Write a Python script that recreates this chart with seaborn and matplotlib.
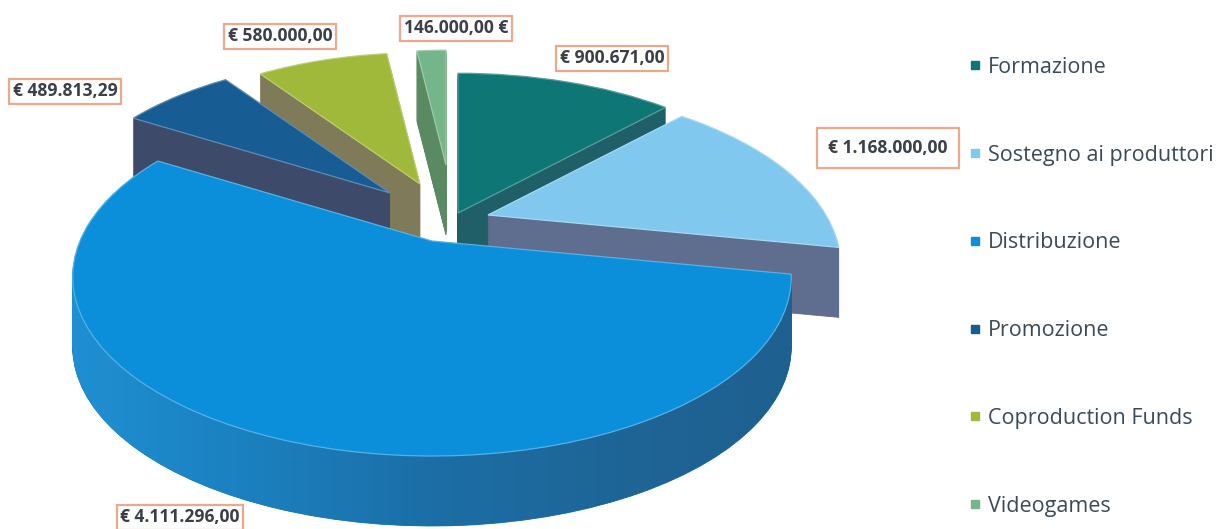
import numpy as np
import matplotlib
matplotlib.use("Agg")
import matplotlib.pyplot as plt
import seaborn as sns
from matplotlib.transforms import Transform
from matplotlib.path import Path
from matplotlib.patches import PathPatch
from matplotlib.lines import Line2D
from matplotlib.colors import to_rgb, LinearSegmentedColormap

categories = ["Formazione", "Sostegno ai produttori", "Distribuzione", "Promozione",
              "Coproduction Funds", "Videogames"]
values = [900671.00, 1168000.00, 4111296.00, 489813.29, 580000.00, 146000.00]
value_labels = ["€ 900.671,00", "€ 1.168.000,00", "€ 4.111.296,00", "€ 489.813,29",
                "€ 580.000,00", "146.000,00 €"]

top_colors = ["#0f7676", "#80c8ee", "#0c8fda", "#175c92", "#a0b93a", "#74b58a"]
side_colors = ["#1f5f68", "#5f6d8e", "#1d7ab8", "#3d4a6a", "#7f7a58", "#5a8a62"]
apex_px = [(458, 213), (488, 215), (432, 241), (390, 193), (420, 184), (446, 165)]
slice_scale = [0.97, 0.96, 1.0, 0.93, 0.90, 0.77]
slice_persp = [0.2, 0.3, 0.2, 0.2, 0.2, 0.2]
draw_order = [5, 0, 4, 3, 1, 2]
label_pos = [(612, 58), (888, 148), (180, 517), (65, 91), (280, 36), (456, 28)]
label_pad = [0.2, 0.65, 0.2, 0.2, 0.2, 0.2]

sns.set_theme(style="white")
plt.rcParams["font.family"] = ["Open Sans", "DejaVu Sans"]

W, H = 1219, 529
fig = plt.figure(figsize=(W / 100, H / 100), dpi=100, facecolor="white")
ax = fig.add_axes([0, 0, 1, 1])


class Perspective(Transform):
    input_dims = output_dims = 2
    is_affine = False

    def __init__(self, cx, cy, scale, k, depth):
        super().__init__()
        self.p = (cx, cy, scale, k, depth)

    def transform_non_affine(self, xy):
        xy = np.asarray(xy, dtype=float)
        cx, cy, sc, k, depth = self.p
        x, y = xy[:, 0] * sc, xy[:, 1] * sc
        s = 1.0 / (1.0 + k * y)
        return np.column_stack([cx + RX * x * s, cy - RY * y * s + depth])

    def transform_path_non_affine(self, path):
        return Path(self.transform_non_affine(path.vertices), path.codes)


def lighten(c, f=0.3):
    r = np.array(to_rgb(c))
    return tuple(r + (1 - r) * f)


RX, RY = 352, 172
DEPTH = 70
rim_paths = []
for d in list(range(DEPTH, 0, -1)) + [0]:
    wedges, _ = ax.pie(values, startangle=90, counterclock=False,
                       colors=top_colors if d == 0 else side_colors,
                       wedgeprops=dict(linewidth=0.9 if d == 0 else 0.6))
    for i, w in enumerate(wedges):
        tr = Perspective(apex_px[i][0], apex_px[i][1], slice_scale[i], slice_persp[i], d)
        w.set_edgecolor(lighten(top_colors[i]) if d == 0 else side_colors[i])
        w.set_transform(tr + ax.transData)
        w.set_zorder(2 + draw_order.index(i) * 2 + (1 if d == 0 else (DEPTH - d) / 1000))
        if i == 2 and d > 0:
            rim_paths.append(tr.transform_path(w.get_path().transformed(w.get_patch_transform())))

ax.set_aspect("auto")
ax.axis("off")

# shaded rim of the large slice
grad = np.linspace(0, 1, 256)[None, :]
cmap = LinearSegmentedColormap.from_list("rim", ["#1f90d2", "#1b80bf", "#1c6ea6", "#1e6596", "#1e6090"])
im = ax.imshow(grad, extent=(65, 800, 530, 200), cmap=cmap, aspect="auto", zorder=2 + 2 * 5 + 0.5)
im.set_clip_path(PathPatch(Path.make_compound_path(*rim_paths), transform=ax.transData))
ax.set_xlim(0, W)
ax.set_ylim(H, 0)

for (x, y), txt, pad in zip(label_pos, value_labels, label_pad):
    ax.text(x, y, txt, ha="center", va="center", fontsize=12.6, fontweight="bold", color="#3a3f48",
            zorder=30, bbox=dict(boxstyle=f"square,pad={pad}", fc="white", ec="#e9a98a", lw=1.6))

handles = [Line2D([], [], linestyle="none", marker="s", markersize=6, color=c) for c in top_colors]
ax.legend(handles, categories, loc="upper left", bbox_to_anchor=(964 / W, 1 - 57 / H),
          bbox_transform=fig.transFigure, frameon=False, fontsize=15.5, labelcolor="#3c4a55",
          labelspacing=3.1, handletextpad=0.13, handlelength=1.0, borderaxespad=0, borderpad=0)

fig.savefig("out.png", dpi=100, facecolor="white")
